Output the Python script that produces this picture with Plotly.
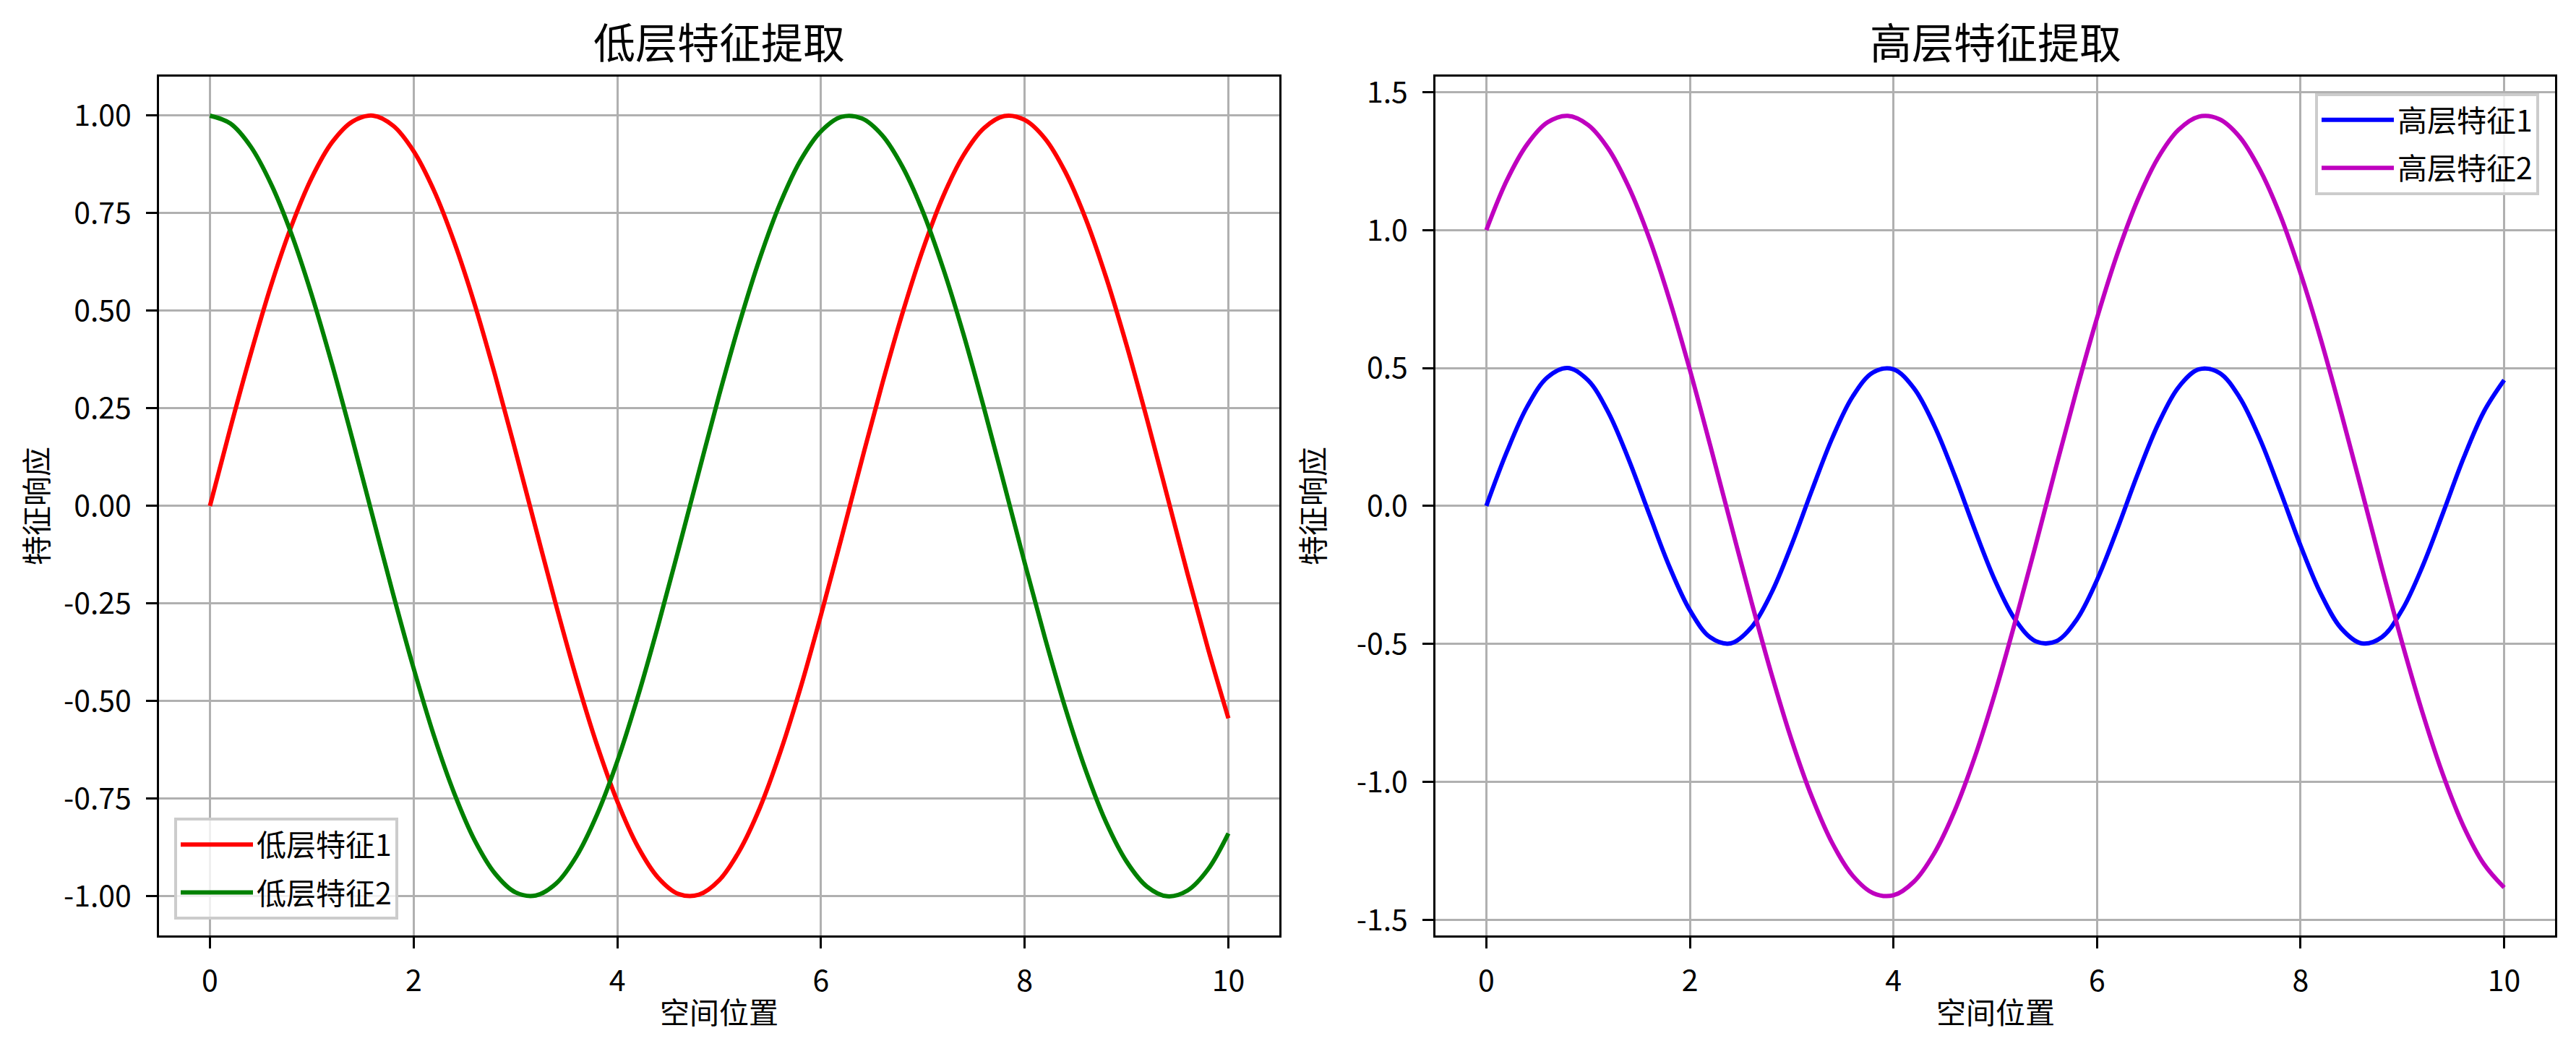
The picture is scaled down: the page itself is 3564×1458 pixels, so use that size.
import plotly.graph_objects as go

x_pos = [0.0, 0.2, 0.4, 0.6, 0.8, 1.0, 1.2, 1.4, 1.6, 1.8, 2.0, 2.2, 2.4, 2.6, 2.8, 3.0,
         3.2, 3.4, 3.6, 3.8, 4.0, 4.2, 4.4, 4.6, 4.8, 5.0, 5.2, 5.4, 5.6, 5.8, 6.0,
         6.2, 6.4, 6.6, 6.8, 7.0, 7.2, 7.4, 7.6, 7.8, 8.0, 8.2, 8.4, 8.6, 8.8, 9.0,
         9.2, 9.4, 9.6, 9.8, 10.0]

low_feat1 = [0.000, 0.199, 0.389, 0.565, 0.717, 0.841, 0.932, 0.985, 1.000, 0.974, 0.909,
             0.808, 0.675, 0.516, 0.335, 0.141, -0.058, -0.256, -0.443, -0.612, -0.757,
             -0.872, -0.952, -0.994, -0.996, -0.959, -0.883, -0.773, -0.631, -0.465, -0.279,
             -0.083, 0.117, 0.312, 0.494, 0.657, 0.794, 0.899, 0.968, 0.999, 0.989,
             0.941, 0.855, 0.735, 0.585, 0.412, 0.223, 0.025, -0.175, -0.366, -0.544]

low_feat2 = [1.000, 0.980, 0.921, 0.825, 0.697, 0.540, 0.362, 0.170, -0.029, -0.227, -0.416,
             -0.589, -0.737, -0.857, -0.942, -0.990, -0.998, -0.967, -0.897, -0.791, -0.654,
             -0.490, -0.307, -0.112, 0.087, 0.284, 0.469, 0.635, 0.776, 0.886, 0.960,
             0.997, 0.993, 0.950, 0.869, 0.754, 0.608, 0.439, 0.251, 0.054, -0.146,
             -0.339, -0.519, -0.678, -0.811, -0.911, -0.975, -1.000, -0.985, -0.931, -0.839]

high_feat1 = [0.000, 0.195, 0.359, 0.466, 0.500, 0.455, 0.338, 0.167, -0.029, -0.221, -0.378,
              -0.476, -0.498, -0.442, -0.316, -0.140, 0.058, 0.247, 0.397, 0.484, 0.495,
              0.427, 0.292, 0.112, -0.087, -0.272, -0.414, -0.491, -0.490, -0.412, -0.268,
              -0.083, 0.116, 0.296, 0.430, 0.495, 0.483, 0.394, 0.243, 0.054, -0.144,
              -0.319, -0.444, -0.498, -0.475, -0.375, -0.217, -0.025, 0.172, 0.341, 0.456]

high_feat2 = [1.000, 1.179, 1.310, 1.390, 1.414, 1.381, 1.294, 1.155, 0.971, 0.747, 0.493,
              0.219, -0.062, -0.341, -0.607, -0.849, -1.056, -1.223, -1.340, -1.403, -1.411,
              -1.362, -1.259, -1.106, -0.909, -0.675, -0.414, -0.138, 0.145, 0.421, 0.681,
              0.914, 1.110, 1.262, 1.363, 1.411, 1.402, 1.338, 1.219, 1.053, 0.843,
              0.602, 0.336, 0.057, -0.226, -0.499, -0.752, -0.975, -1.160, -1.297, -1.383]

x_ticks = [0, 2, 4, 6, 8, 10]
left_yticks = [-1.0, -0.75, -0.5, -0.25, 0.0, 0.25, 0.5, 0.75, 1.0]
left_yticktext = ["-1.00", "-0.75", "-0.50", "-0.25", "0.00", "0.25", "0.50", "0.75", "1.00"]
right_yticks = [-1.5, -1.0, -0.5, 0.0, 0.5, 1.0, 1.5]
right_yticktext = ["-1.5", "-1.0", "-0.5", "0.0", "0.5", "1.0", "1.5"]

titles = ["低层特征提取", "高层特征提取"]
x_title = "空间位置"
y_title = "特征响应"
names = ["低层特征1", "低层特征2", "高层特征1", "高层特征2"]

# page size; the HTML body has an 8px default margin
W, H = 3564, 1458
OFF = 8
FW, FH = W - 2 * OFF, H - 2 * OFF
FONT = "Noto Sans CJK SC"

fig = go.Figure()
line_w = 6
fig.add_trace(go.Scatter(x=x_pos, y=low_feat1, mode="lines", name=names[0], legendgroup="a",
                         line=dict(color="#ff0000", width=line_w, shape="spline"), xaxis="x", yaxis="y", legend="legend"))
fig.add_trace(go.Scatter(x=x_pos, y=low_feat2, mode="lines", name=names[1], legendgroup="b",
                         line=dict(color="#008000", width=line_w, shape="spline"), xaxis="x", yaxis="y", legend="legend"))
fig.add_trace(go.Scatter(x=x_pos, y=high_feat1, mode="lines", name=names[2], legendgroup="c",
                         line=dict(color="#0000ff", width=line_w, shape="spline"), xaxis="x2", yaxis="y2", legend="legend2"))
fig.add_trace(go.Scatter(x=x_pos, y=high_feat2, mode="lines", name=names[3], legendgroup="d",
                         line=dict(color="#bf00bf", width=line_w, shape="spline"), xaxis="x2", yaxis="y2", legend="legend2"))

def px_x(p):
    return (p - OFF) / FW

def px_y(p):
    return 1 - (p - OFF) / FH

ax_common = dict(showline=True, linecolor="black", linewidth=3, mirror=True,
                 ticks="outside", ticklen=15, tickwidth=3, tickcolor="black",
                 showgrid=True, gridcolor="#b0b0b0", gridwidth=3, zeroline=False,
                 tickfont=dict(family=FONT, size=41, color="black"))

y_dom = [px_y(1297), px_y(95)]
legend_common = dict(bgcolor="rgba(255,255,255,0.8)", bordercolor="#cccccc", borderwidth=4,
                     font=dict(family=FONT, size=41, color="black"),
                     tracegroupgap=10, itemwidth=100)
fig.update_layout(
    width=FW, height=FH, paper_bgcolor="white", plot_bgcolor="white",
    margin=dict(l=0, r=0, t=0, b=0),
    font=dict(family=FONT, color="black"),
    xaxis=dict(domain=[px_x(220), px_x(1770)], range=[-0.5, 10.5], tickvals=x_ticks, anchor="y", ticklabelstandoff=10, **ax_common),
    yaxis=dict(domain=y_dom, range=[-1.1, 1.1], tickvals=left_yticks, ticktext=left_yticktext, anchor="x", ticklabelstandoff=12, **ax_common),
    xaxis2=dict(domain=[px_x(1986), px_x(3535)], range=[-0.5, 10.5], tickvals=x_ticks, anchor="y2", ticklabelstandoff=10, **ax_common),
    yaxis2=dict(domain=y_dom, range=[-1.556, 1.556], tickvals=right_yticks, ticktext=right_yticktext, anchor="x2", ticklabelstandoff=12, **ax_common),
    legend=dict(x=px_x(241), y=px_y(1275), xanchor="left", yanchor="bottom", **legend_common),
    legend2=dict(x=px_x(3513), y=px_y(118), xanchor="right", yanchor="top", **legend_common),
    showlegend=True,
)

centers = [(220 + 1770) / 2, (1986 + 3535) / 2]
ylabel_x = [48, 1814]
annotations = []
for i, c in enumerate(centers):
    annotations.append(dict(text=titles[i], x=px_x(c), y=px_y(44), xref="paper", yref="paper",
                            showarrow=False, xanchor="center", yanchor="middle",
                            font=dict(family=FONT, size=58, color="black")))
    annotations.append(dict(text=x_title, x=px_x(c), y=px_y(1402), xref="paper", yref="paper",
                            showarrow=False, xanchor="center", yanchor="middle",
                            font=dict(family=FONT, size=41, color="black")))
    annotations.append(dict(text=y_title, x=px_x(ylabel_x[i]), y=px_y(696), xref="paper", yref="paper",
                            showarrow=False, xanchor="center", yanchor="middle", textangle=-90,
                            font=dict(family=FONT, size=41, color="black")))
fig.update_layout(annotations=annotations)

fig.write_html("out.html")
